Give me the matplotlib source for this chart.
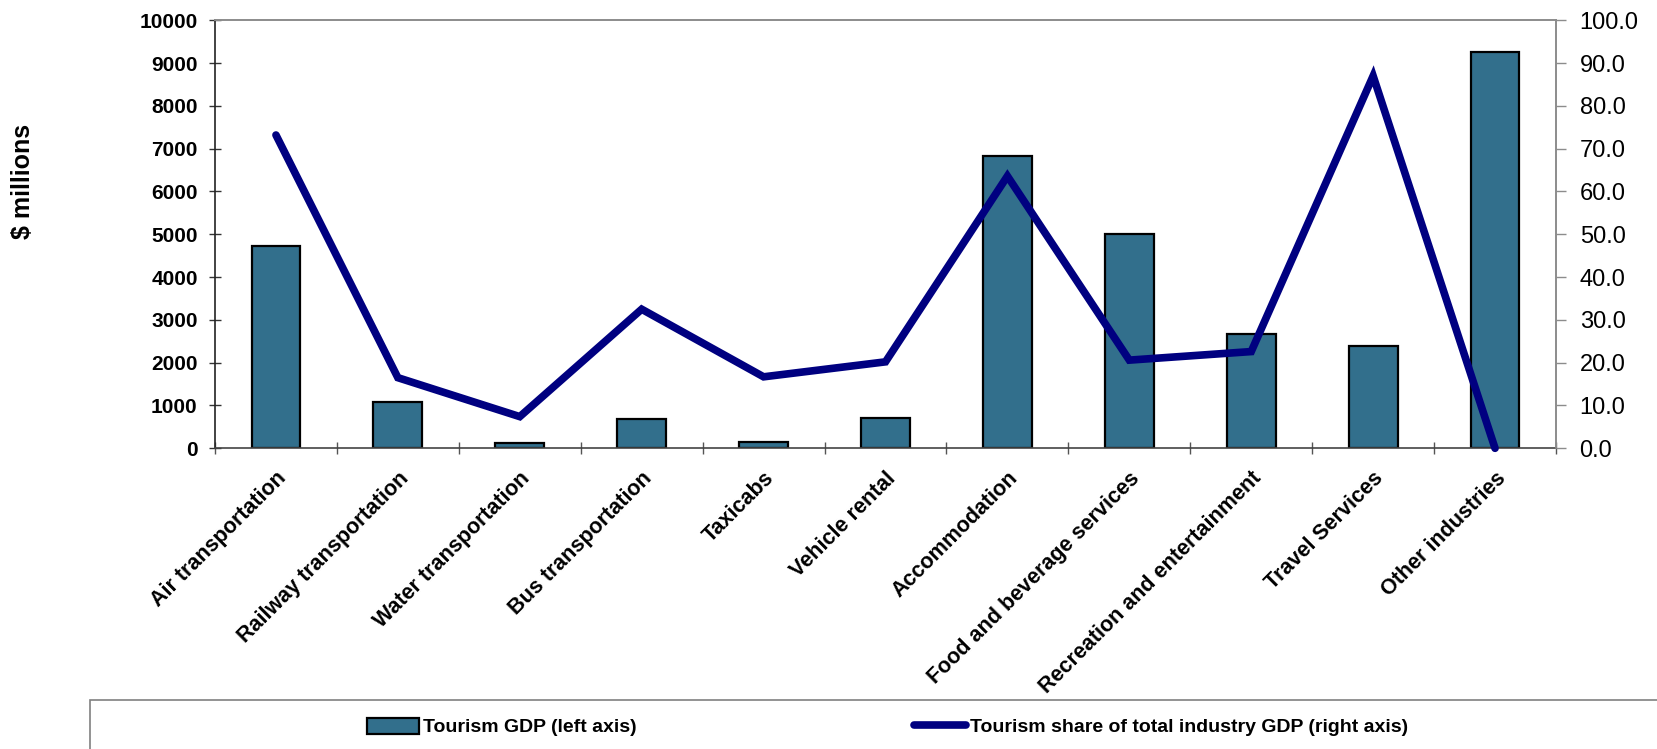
import matplotlib
matplotlib.use("Agg")
import matplotlib.pyplot as plt
from matplotlib.patches import Rectangle, Patch
from matplotlib.lines import Line2D
import numpy as np

plt.rcParams['font.family'] = ['Liberation Sans', 'DejaVu Sans']

categories = ["Air transportation", "Railway transportation", "Water transportation",
              "Bus transportation", "Taxicabs", "Vehicle rental", "Accommodation",
              "Food and beverage services", "Recreation and entertainment",
              "Travel Services", "Other industries"]
tourism_gdp = [4730, 1080, 130, 690, 150, 710, 6830, 5000, 2670, 2390, 9260]
tourism_share = [73.2, 16.5, 7.4, 32.5, 16.7, 20.2, 63.6, 20.6, 22.6, 87.0, 0.0]
left_ticks = list(range(0, 10001, 1000))
right_ticks = list(range(0, 101, 10))

W, H = 1658, 749
fig = plt.figure(figsize=(W / 100, H / 100), dpi=100)
ax = fig.add_axes([215 / W, 1 - 448.3 / H, (1556 - 215) / W, (448.3 - 20.3) / H])
x = np.arange(len(categories))

bar_color = '#326F8C'
line_color = '#000080'

ax.bar(x, tourism_gdp, width=0.40, color=bar_color, edgecolor='black', linewidth=1.6, zorder=2)
ax.set_xlim(-0.5, len(categories) - 0.5)
ax.set_ylim(0, 10000)
ax.set_yticks(left_ticks)
ax.set_yticklabels([str(v) for v in left_ticks], fontsize=15, fontweight='bold')
ax.tick_params(axis='y', direction='inout', length=9, width=1, color='#333333', pad=8)

ax.set_xticks(x)
ax.set_xticklabels(categories, rotation=45, ha='right', va='top', rotation_mode='anchor',
                   fontsize=15.5, fontweight='bold')
ax.tick_params(axis='x', which='major', length=0, pad=14)
ax.set_xticks(np.arange(-0.5, len(categories), 1.0), minor=True)
ax.tick_params(axis='x', which='minor', direction='inout', length=9, width=1, color='#555555')

ax.spines['left'].set_color('#222222')
ax.spines['bottom'].set_color('#444444')
ax.spines['top'].set_color('#8c8c8c')
ax.spines['right'].set_color('#8c8c8c')
for s in ax.spines.values():
    s.set_linewidth(1.2)

ax2 = ax.twinx()
ax2.plot(x, tourism_share, color=line_color, linewidth=5.5, solid_capstyle='round',
         solid_joinstyle='miter', clip_on=False, zorder=3)
ax2.set_ylim(0, 100)
ax2.set_yticks(right_ticks)
ax2.set_yticklabels([f"{v:.1f}" for v in right_ticks], fontsize=17)
ax2.tick_params(axis='y', direction='out', length=7, width=1, color='#8c8c8c', pad=10)
ax2.spines['right'].set_color('#8c8c8c')
ax2.spines['top'].set_color('#8c8c8c')
ax2.spines['left'].set_visible(False)
ax2.spines['bottom'].set_visible(False)
for s in ax2.spines.values():
    s.set_linewidth(1.2)

fig.text(23 / W, 1 - 181 / H, "$ millions", rotation=90, fontsize=18, fontweight='bold',
         ha='center', va='center')

# legend frame
fig.add_artist(Rectangle((90 / W, -0.05), 1.0, 1 - 700 / H + 0.05, transform=fig.transFigure,
                         facecolor='none', edgecolor='#808080', linewidth=1.2))

h1 = Patch(facecolor=bar_color, edgecolor='black', linewidth=1.6)
h2 = Line2D([0], [0], color=line_color, linewidth=5.5, solid_capstyle='round')
leg1 = fig.legend([h1], ["Tourism GDP (left axis)"], loc='center left',
                  bbox_to_anchor=(367 / W, 1 - 727 / H), frameon=False, borderpad=0,
                  borderaxespad=0, handlelength=2.7, handleheight=0.9, handletextpad=0.2,
                  prop={'size': 14, 'weight': 'bold'})
leg2 = fig.legend([h2], ["Tourism share of total industry GDP (right axis)"], loc='center left',
                  bbox_to_anchor=(914 / W, 1 - 727 / H), frameon=False, borderpad=0,
                  borderaxespad=0, handlelength=2.7, handletextpad=0.2,
                  prop={'size': 14, 'weight': 'bold'})

fig.savefig("out.png", dpi=100)
